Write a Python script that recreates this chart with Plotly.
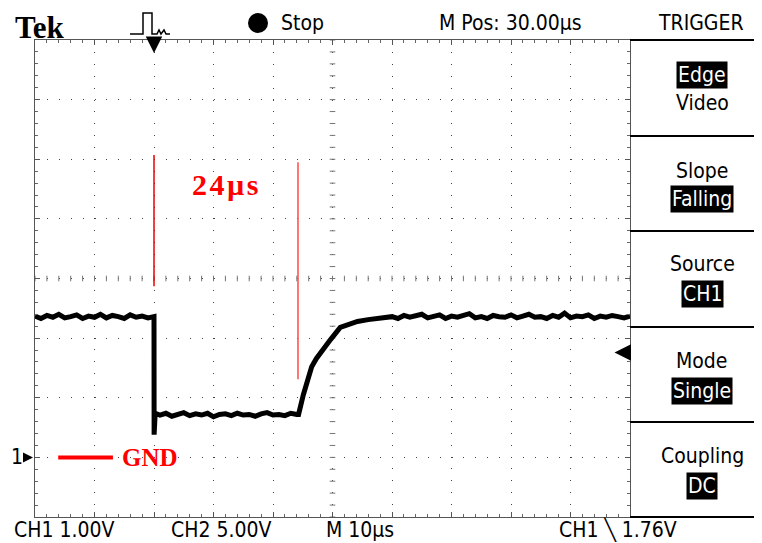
import plotly.graph_objects as go

# ---------------- data ----------------
# time axis: 10 us/div, 10 divisions ; CH1: 1.00 V/div, ground 1 div above bottom
high1_t = list(range(0, 21))
high1_v = [2.37, 2.33, 2.38, 2.35, 2.40, 2.34, 2.36, 2.39, 2.33, 2.37, 2.35,
           2.40, 2.34, 2.38, 2.36, 2.33, 2.39, 2.35, 2.37, 2.34, 2.36]
edge_t = [20.02, 20.2]
edge_v = [0.38, 0.74]
low_t = list(range(21, 45))
low_v = [0.71, 0.74, 0.69, 0.72, 0.75, 0.70, 0.73, 0.71, 0.74, 0.68, 0.72, 0.73,
         0.70, 0.74, 0.71, 0.72, 0.69, 0.73, 0.75, 0.71, 0.72, 0.70, 0.74, 0.72]
rise_t = [44.3, 45.1, 45.8, 46.5, 47.3, 48.5, 49.7, 51.3, 52.8, 54.2, 56.0, 58.1]
rise_v = [0.72, 1.05, 1.30, 1.52, 1.66, 1.83, 1.98, 2.18, 2.24, 2.28, 2.31, 2.33]
high2_t = list(range(59, 101))
high2_v = [2.34, 2.36, 2.33, 2.38, 2.35, 2.37, 2.40, 2.34, 2.36, 2.39,
           2.33, 2.37, 2.35, 2.38, 2.41, 2.34, 2.36, 2.33, 2.38, 2.36,
           2.35, 2.39, 2.34, 2.37, 2.40, 2.35, 2.36, 2.33, 2.38, 2.35,
           2.42, 2.34, 2.37, 2.36, 2.39, 2.33, 2.37, 2.35, 2.38, 2.36,
           2.34, 2.37]

time_us = high1_t + edge_t + low_t + rise_t + high2_t
ch1_v = high1_v + edge_v + low_v + rise_v + high2_v

trigger_time_us = 20
trigger_level_v = 1.76
ground_v = 0.0
cursor_t = [20, 44.2]
cursor_top_v = [5.07, 4.95]
cursor_bot_v = [2.87, 1.31]
cursor_colors = ["#e80000", "#ff4a4a"]
delta_label = "<b>2\u200a4\u200aµ\u200as</b>"
gnd_line_t = [3.9, 13.1]

x_range = [0, 100]
y_range = [-1, 7]

top_labels = ["Stop", "M Pos: 30.00µs", "TRIGGER"]
bottom_labels = ["CH1 1.00V", "CH2 5.00V", "M 10µs", "CH1 \u2572 1.76V"]
menu_titles = ["Video", "Slope", "Source", "Mode", "Coupling"]
menu_values = ["Edge", "Falling", "CH1", "Single", "DC"]

# ---------------- layout helpers (window pixel coordinates) ----------------
OFF = 8                      # page body margin
W, H = 762 - OFF, 543 - OFF
ML, MT = 35 - OFF, 40 - OFF
PW, PH = 595, 477
MR = W - ML - PW
MB = H - MT - PH
X0, Y1 = 35, 517             # plot area left / bottom in window pixels


def px(x):
    return (x - X0) / PW


def py(y):
    return (Y1 - y) / PH


SF = "Liberation Sans Narrow, DejaVu Sans Condensed, Arial Narrow, sans-serif"
SERIF = "Liberation Serif, DejaVu Serif, serif"

fig = go.Figure()

# centre graticule ticks
fig.add_trace(go.Scatter(
    x=[50] * 41, y=[y_range[0] + 0.2 * i for i in range(41)], mode="markers",
    marker=dict(symbol="line-ew", size=4, line=dict(width=1, color="#777")),
    hoverinfo="skip", showlegend=False))
fig.add_trace(go.Scatter(
    x=[2 * i for i in range(51)], y=[3] * 51, mode="markers",
    marker=dict(symbol="line-ns", size=4, line=dict(width=1, color="#777")),
    hoverinfo="skip", showlegend=False))

# waveform
fig.add_trace(go.Scatter(x=time_us, y=ch1_v, mode="lines",
                         line=dict(color="black", width=5),
                         hoverinfo="skip", showlegend=False))

# cursors
for t, v0, v1, c in zip(cursor_t, cursor_bot_v, cursor_top_v, cursor_colors):
    fig.add_trace(go.Scatter(x=[t, t], y=[v0, v1], mode="lines",
                             line=dict(color=c, width=1.5),
                             hoverinfo="skip", showlegend=False))

# GND marker
fig.add_trace(go.Scatter(x=gnd_line_t, y=[ground_v, ground_v], mode="lines",
                         line=dict(color="#ff0000", width=4),
                         hoverinfo="skip", showlegend=False))

ann = []
ann.append(dict(x=31.9, y=4.58, xref="x", yref="y", text=delta_label,
                showarrow=False, font=dict(family=SERIF, size=30, color="#ff0000"),
                xanchor="center", yanchor="middle"))
ann.append(dict(x=gnd_line_t[1] + 1.2, y=ground_v, xref="x", yref="y",
                text="<b>GND</b>", showarrow=False,
                font=dict(family=SERIF, size=25, color="#ff0000"),
                xanchor="left", yanchor="middle"))

# ground marker "1->"
ann.append(dict(x=px(17), y=ground_v, xref="paper", yref="y", text="1",
                showarrow=False, font=dict(family=SF, size=21, color="black"),
                xanchor="center", yanchor="middle"))
ann.append(dict(x=px(33), y=ground_v, xref="paper", yref="y", text="",
                showarrow=True, ax=-10, ay=0, arrowhead=2, arrowsize=1,
                arrowwidth=2, arrowcolor="black"))

# trigger level arrow (right)
ann.append(dict(x=97.4, y=trigger_level_v, xref="x", yref="y", text="",
                showarrow=True, ax=16, ay=0, arrowhead=2, arrowsize=1.1,
                arrowwidth=3, arrowcolor="black"))
# trigger position arrow (top)
ann.append(dict(x=trigger_time_us, y=py(53), xref="x", yref="paper", text="",
                showarrow=True, ax=0, ay=-13, arrowhead=2, arrowsize=1.1,
                arrowwidth=3, arrowcolor="black"))

# header texts
ann.append(dict(x=px(14), y=py(27), xref="paper", yref="paper", text="<b>Tek</b>",
                showarrow=False, font=dict(family=SERIF, size=31, color="black"),
                borderpad=0, xanchor="left", yanchor="middle"))
ann.append(dict(x=px(279), y=py(23), xref="paper", yref="paper", text=top_labels[0],
                showarrow=False, font=dict(family=SF, size=21, color="black"),
                xanchor="left", yanchor="middle"))
ann.append(dict(x=px(437), y=py(23), xref="paper", yref="paper", text=top_labels[1],
                showarrow=False, font=dict(family=SF, size=21, color="black"),
                xanchor="left", yanchor="middle"))
ann.append(dict(x=px(701), y=py(23), xref="paper", yref="paper", text=top_labels[2],
                showarrow=False, font=dict(family=SF, size=21, color="black"),
                xanchor="center", yanchor="middle"))

# footer texts
for lbl, x0 in zip(bottom_labels, [12, 169, 324, 557]):
    ann.append(dict(x=px(x0), y=py(530), xref="paper", yref="paper", text=lbl,
                    showarrow=False, font=dict(family=SF, size=21, color="black"),
                    xanchor="left", yanchor="middle"))

# trigger menu
menu_y = [(103, 75), (171, 199), (264, 294), (361, 391), (456, 486)]
for i, (title, val) in enumerate(zip(menu_titles, menu_values)):
    ty, vy = menu_y[i]
    ann.append(dict(x=px(702), y=py(ty), xref="paper", yref="paper", text=title,
                    showarrow=False, font=dict(family=SF, size=21, color="black"),
                    xanchor="center", yanchor="middle"))
    ann.append(dict(x=px(702), y=py(vy), xref="paper", yref="paper", text=val,
                    showarrow=False, font=dict(family=SF, size=21, color="white"),
                    bgcolor="black", borderpad=1,
                    xanchor="center", yanchor="middle"))

shapes = []
for yy in [40, 136, 231, 327, 422, 517]:
    shapes.append(dict(type="line", xref="paper", yref="paper",
                       x0=px(630), x1=px(762), y0=py(yy), y1=py(yy),
                       line=dict(color="black", width=2)))
# stop dot
shapes.append(dict(type="circle", xref="paper", yref="paper",
                   x0=px(248), x1=px(268), y0=py(33), y1=py(13),
                   fillcolor="black", line=dict(color="black", width=0)))
# trigger status pulse icon
pts = [(130, 34), (141, 34), (143, 34), (143, 13), (152, 13), (152, 34), (157, 34),
       (159, 30), (161, 34), (164, 30), (166, 34), (170, 34)]
path = "M " + " L ".join(f"{px(a):.5f},{py(b):.5f}" for a, b in pts)
shapes.append(dict(type="path", xref="paper", yref="paper", path=path,
                   line=dict(color="black", width=1.5)))

axis_common = dict(showgrid=True, gridcolor="#444", gridwidth=1,
                   griddash="1px,10.9px", zeroline=False, showticklabels=False,
                   showline=True, linecolor="#555", linewidth=1, mirror="allticks",
                   ticks="inside", ticklen=5, tickcolor="#555", fixedrange=True)

fig.update_layout(
    width=W, height=H,
    margin=dict(l=ML, r=MR, t=MT, b=MB, pad=0),
    paper_bgcolor="white", plot_bgcolor="white",
    xaxis=dict(range=x_range, dtick=10, tick0=0,
               minor=dict(dtick=2, ticks="inside", ticklen=3, tickcolor="#666",
                          showgrid=False), **axis_common),
    yaxis=dict(range=y_range, dtick=1, tick0=0,
               minor=dict(dtick=0.2, ticks="inside", ticklen=3, tickcolor="#666",
                          showgrid=False), **axis_common),
    annotations=ann, shapes=shapes, showlegend=False,
)

fig.write_html("out.html")
